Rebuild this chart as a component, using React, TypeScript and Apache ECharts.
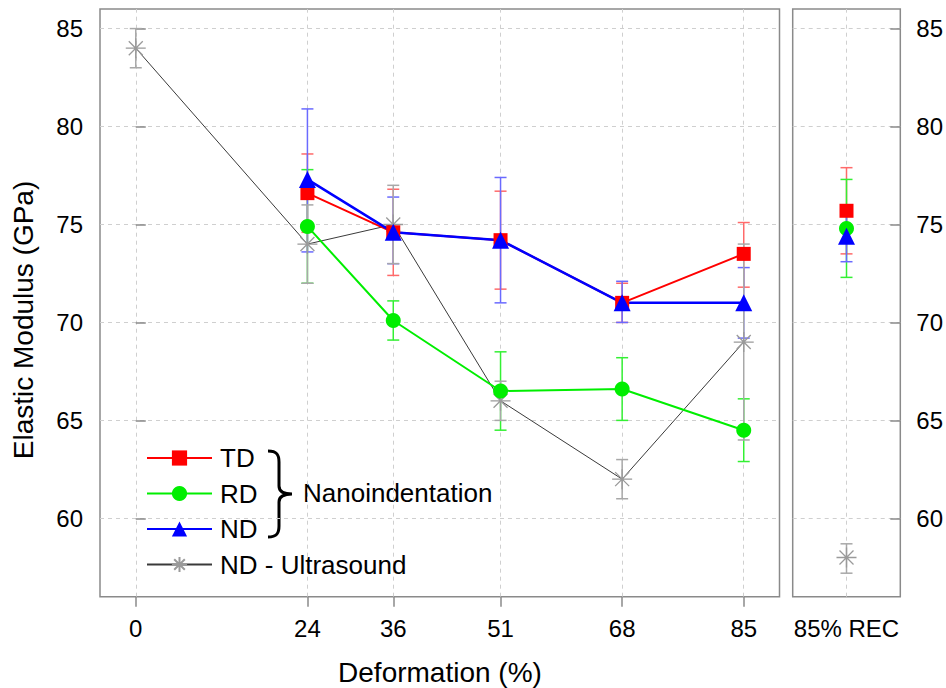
import React, { useEffect, useRef } from 'react';
import * as echarts from 'echarts';

// ---------- data ----------
const deformation = [0, 24, 36, 51, 68, 85];
const yTicks = [60, 65, 70, 75, 80, 85];
const recCategory = ['85% REC'];

const tdX = [24, 36, 51, 68, 85];
const tdY = [76.6, 74.6, 74.2, 71.0, 73.5];
const tdLow = [74.6, 72.4, 71.7, 70.0, 71.8];
const tdHigh = [78.6, 76.8, 76.7, 72.0, 75.1];

const rdX = [24, 36, 51, 68, 85];
const rdY = [74.9, 70.1, 66.5, 66.6, 64.5];
const rdLow = [72.0, 69.1, 64.5, 65.0, 62.9];
const rdHigh = [77.8, 71.1, 68.5, 68.2, 66.1];

const ndX = [24, 36, 51, 68, 85];
const ndY = [77.3, 74.6, 74.2, 71.0, 71.0];
const ndLow = [73.6, 73.0, 71.0, 70.0, 69.2];
const ndHigh = [80.9, 76.4, 77.4, 72.1, 72.8];

const usX = [0, 24, 36, 51, 68, 85];
const usY = [84.0, 74.0, 75.0, 66.0, 62.0, 69.0];
const usLow = [83.0, 72.0, 73.0, 65.0, 61.0, 64.0];
const usHigh = [85.0, 76.0, 77.0, 67.0, 63.0, 74.0];

// 85% REC panel, order: TD, RD, ND, ND - Ultrasound
const recValues = [75.7, 74.8, 74.4, 58.0];
const recLow = [73.5, 72.3, 73.1, 57.2];
const recHigh = [77.9, 77.3, 75.7, 58.7];

const seriesNames = ['TD', 'RD', 'ND', 'ND - Ultrasound'];

// ---------- styles ----------
const FONT = '"Liberation Sans", Arial, Helvetica, sans-serif';
const FRAME = '#8a8a8a';
const GRIDC = '#cfcfcf';
const lineColors = ['#ff0000', '#00ee00', '#0000ff', '#3a3a3a'];
const markerColors = ['#ff0000', '#00ee00', '#0000ff', '#9a9a9a'];
const errColors = ['#ff6a6a', '#33f033', '#6a6aff', '#a8a8a8'];
const STAR = 'path://M10 0 L10 20 M0 10 L20 10 M3 3 L17 17 M3 17 L17 3';
const symbols = ['rect', 'circle', 'triangle', STAR];
const symbolSizes = [14, 15, 17, 20];
const lineWidths = [2, 2, 2.5, 1];

const BRACE_D =
  'M0 1 C9 1 11 5 11 12 L11 36 C11 41 14 44 24 44 C14 44 11 47 11 52 L11 76 C11 83 9 87 0 87';

function errRender(color: string) {
  return (params: any, api: any) => {
    const x = api.value(0);
    const lo = api.coord([x, api.value(1)]);
    const hi = api.coord([x, api.value(2)]);
    const w = 6;
    const style = { stroke: color, lineWidth: 1.5 };
    return {
      type: 'group',
      children: [
        { type: 'line', shape: { x1: lo[0], y1: lo[1], x2: hi[0], y2: hi[1] }, style },
        { type: 'line', shape: { x1: lo[0] - w, y1: lo[1], x2: lo[0] + w, y2: lo[1] }, style },
        { type: 'line', shape: { x1: hi[0] - w, y1: hi[1], x2: hi[0] + w, y2: hi[1] }, style },
      ],
    };
  };
}

export default function App() {
  const ref = useRef<HTMLDivElement>(null);

  useEffect(() => {
    if (!ref.current) return;
    try {
      echarts.graphic.registerShape('brace', echarts.graphic.extendPath(BRACE_D, {}) as any);
    } catch (e) {
      /* ignore */
    }
    const chart = echarts.init(ref.current, null, { renderer: 'svg' });

    const leftSets = [
      { x: tdX, y: tdY, lo: tdLow, hi: tdHigh },
      { x: rdX, y: rdY, lo: rdLow, hi: rdHigh },
      { x: ndX, y: ndY, lo: ndLow, hi: ndHigh },
      { x: usX, y: usY, lo: usLow, hi: usHigh },
    ];

    const gridLineStyle = { color: GRIDC, type: [4, 4] as any, width: 1 };

    const series: any[] = [];
    series.push({
      type: 'line',
      xAxisIndex: 0,
      yAxisIndex: 0,
      data: [],
      z: 0,
      markLine: {
        z: 0,
        silent: true,
        symbol: ['none', 'none'],
        label: { show: false },
        lineStyle: gridLineStyle,
        emphasis: { disabled: true },
        data: [
          ...deformation.map((v) => ({ xAxis: v })),
          ...yTicks.map((v) => ({ yAxis: v })),
        ],
      },
    });
    series.push({
      type: 'line',
      xAxisIndex: 1,
      yAxisIndex: 1,
      data: [],
      z: 0,
      markLine: {
        z: 0,
        silent: true,
        symbol: ['none', 'none'],
        label: { show: false },
        lineStyle: gridLineStyle,
        emphasis: { disabled: true },
        data: [{ xAxis: 0 }, ...yTicks.map((v) => ({ yAxis: v }))],
      },
    });

    // error bars
    leftSets.forEach((s, i) => {
      series.push({
        type: 'custom',
        name: seriesNames[i] + ' err',
        xAxisIndex: 0,
        yAxisIndex: 0,
        z: 2,
        silent: true,
        renderItem: errRender(errColors[i]),
        data: s.x.map((x, k) => [x, s.lo[k], s.hi[k]]),
      });
      series.push({
        type: 'custom',
        name: seriesNames[i] + ' rec err',
        xAxisIndex: 1,
        yAxisIndex: 1,
        z: 2,
        silent: true,
        renderItem: errRender(errColors[i]),
        data: [[0, recLow[i], recHigh[i]]],
      });
    });

    const order = [3, 0, 1, 2];
    order.forEach((i) => {
      const s = leftSets[i];
      const isStar = i === 3;
      const itemStyle = isStar
        ? { color: markerColors[i], borderColor: markerColors[i], borderWidth: 1.3 }
        : { color: markerColors[i], borderWidth: 0 };
      series.push({
        type: 'line',
        name: seriesNames[i],
        xAxisIndex: 0,
        yAxisIndex: 0,
        z: 3,
        data: s.x.map((x, k) => [x, s.y[k]]),
        symbol: symbols[i],
        symbolSize: symbolSizes[i],
        showSymbol: true,
        lineStyle: { color: lineColors[i], width: lineWidths[i] },
        itemStyle,
        emphasis: { disabled: true },
      });
      series.push({
        type: 'line',
        name: seriesNames[i] + ' REC',
        xAxisIndex: 1,
        yAxisIndex: 1,
        z: 3,
        data: [[0, recValues[i]]],
        symbol: symbols[i],
        symbolSize: symbolSizes[i],
        showSymbol: true,
        lineStyle: { color: lineColors[i], width: lineWidths[i] },
        itemStyle,
        emphasis: { disabled: true },
      });
    });

    const axisLabelStyle = { color: '#000', fontFamily: FONT, fontSize: 24 };

    const option: any = {
      animation: false,
      backgroundColor: '#fff',
      grid: [
        { left: 100, top: 9, width: 679.5, height: 587.7, show: true, borderColor: FRAME, borderWidth: 1.5, backgroundColor: 'transparent' },
        { left: 792.7, top: 9, width: 108, height: 587.7, show: true, borderColor: FRAME, borderWidth: 1.5, backgroundColor: 'transparent' },
      ],
      xAxis: [
        {
          type: 'value',
          gridIndex: 0,
          min: -5,
          max: 90,
          axisLine: { show: false },
          splitLine: { show: false },
          axisTick: { show: true, customValues: deformation, length: 10, lineStyle: { color: FRAME, width: 1.5 } },
          axisLabel: { ...axisLabelStyle, customValues: deformation, margin: 20 },
        },
        {
          type: 'category',
          gridIndex: 1,
          data: recCategory,
          boundaryGap: true,
          axisLine: { show: false },
          splitLine: { show: false },
          axisTick: { show: false },
          axisLabel: { ...axisLabelStyle, margin: 20 },
        },
      ],
      yAxis: [
        {
          type: 'value',
          gridIndex: 0,
          min: 56,
          max: 86,
          axisLine: { show: false },
          splitLine: { show: false },
          axisTick: { show: true, inside: true, customValues: yTicks, length: 10, lineStyle: { color: FRAME, width: 1.5 } },
          axisLabel: { ...axisLabelStyle, customValues: yTicks, margin: 17 },
        },
        {
          type: 'value',
          gridIndex: 1,
          position: 'right',
          min: 56,
          max: 86,
          axisLine: { show: false },
          splitLine: { show: false },
          axisTick: { show: true, inside: true, customValues: yTicks, length: 10, lineStyle: { color: FRAME, width: 1.5 } },
          axisLabel: { ...axisLabelStyle, customValues: yTicks, margin: 16 },
        },
      ],
      legend: {
        data: seriesNames,
        orient: 'vertical',
        left: 146,
        top: 445,
        padding: 0,
        itemWidth: 65,
        itemHeight: 19,
        itemGap: 9.5,
        selectedMode: false,
        textStyle: { color: '#000', fontFamily: FONT, fontSize: 26, padding: [0, 0, 0, 3] },
      },
      graphic: [
        {
          type: 'text',
          x: 23,
          y: 320,
          rotation: Math.PI / 2,
          style: { text: 'Elastic Modulus (GPa)', font: `28px ${FONT}`, fill: '#000', textAlign: 'center', textVerticalAlign: 'middle' },
        },
        {
          type: 'text',
          x: 440,
          y: 672,
          style: { text: 'Deformation (%)', font: `28px ${FONT}`, fill: '#000', textAlign: 'center', textVerticalAlign: 'middle' },
        },
        {
          type: 'brace',
          x: 268,
          y: 450,
          shape: {},
          style: { fill: 'none', stroke: '#000', lineWidth: 3 },
        },
        {
          type: 'text',
          x: 303,
          y: 493,
          style: { text: 'Nanoindentation', font: `26px ${FONT}`, fill: '#000', textAlign: 'left', textVerticalAlign: 'middle' },
        },
      ],
      series,
    };

    chart.setOption(option);
    return () => {
      chart.dispose();
    };
  }, []);

  return (
    <div
      ref={ref}
      style={{ position: 'fixed', left: 0, top: 0, width: 946, height: 688, background: '#fff' }}
    />
  );
}
